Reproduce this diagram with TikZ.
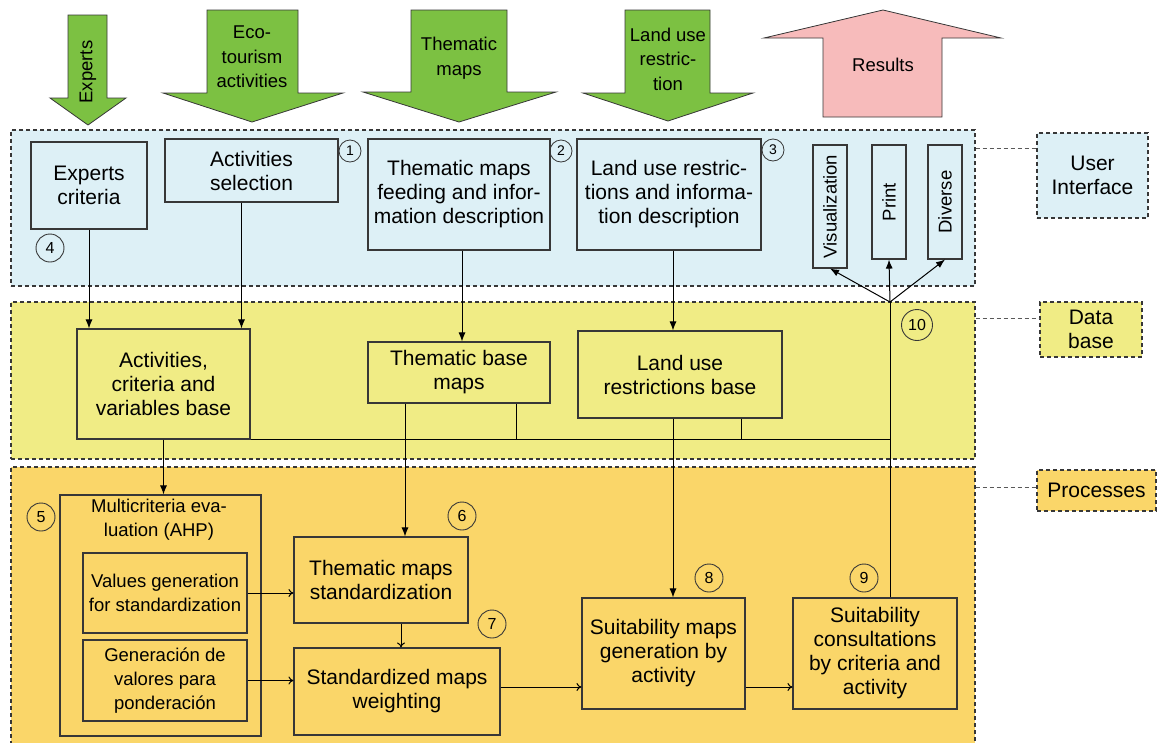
\documentclass[tikz,border=0pt]{standalone}
\usepackage{fontspec}
\setmainfont{Liberation Sans}
\usetikzlibrary{arrows.meta,calc}
\definecolor{uiblue}{RGB}{221,240,246}
\definecolor{dbyellow}{RGB}{240,236,133}
\definecolor{procorange}{RGB}{250,214,105}
\definecolor{arrgreen}{RGB}{124,193,66}
\definecolor{respink}{RGB}{247,187,187}
\definecolor{edge}{RGB}{55,55,55}
\begin{document}
\begin{tikzpicture}[x=1pt,y=-1pt,
 box/.style={draw=edge, line width=1.1pt, inner sep=0pt, align=center, font=\fontsize{21}{24}\selectfont},
 smallbox/.style={box, font=\fontsize{18.5}{24}\selectfont},
 panelbox/.style={draw=edge, line width=1.1pt, dash pattern=on 4pt off 3pt, inner sep=0pt},
 labelbox/.style={panelbox, align=center, font=\fontsize{21}{24}\selectfont},
 linkline/.style={draw=gray!70!black, line width=1pt, dash pattern=on 4pt off 3pt},
 conn/.style={draw=black, line width=1pt},
 arr/.style={conn, -{Latex[length=9pt,width=7pt]}},
 openarr/.style={conn, -{To[length=5pt,width=8pt]}},
 numbig/.style={circle, draw=edge, line width=0.9pt, minimum size=28pt, inner sep=0pt, font=\fontsize{16}{16}\selectfont},
 numsmall/.style={circle, draw=edge, line width=0.8pt, minimum size=22pt, inner sep=0pt, font=\fontsize{14}{14}\selectfont},
 bigarrow/.style={draw=edge, line width=0.8pt, fill=arrgreen},
 arrtext/.style={align=center, font=\fontsize{18.5}{24.5}\selectfont},
 vtext/.style={rotate=90, font=\fontsize{18.5}{22}\selectfont},
]
\useasboundingbox (0,0) rectangle (1157,742);

% panels
\node[panelbox, fill=uiblue, minimum width=964pt, minimum height=156pt] (uipanel) at (493,208) {};
\node[panelbox, fill=dbyellow, minimum width=964pt, minimum height=157pt] (dbpanel) at (493,380.5) {};
\node[panelbox, fill=procorange, minimum width=964pt, minimum height=283pt] (prpanel) at (493,608.5) {};

% side labels
\node[labelbox, fill=uiblue, minimum width=111pt, minimum height=85pt] (uil) at (1092.5,175.5) {User\\Interface};
\node[labelbox, fill=dbyellow, minimum width=102pt, minimum height=55pt] (dbl) at (1091,329.5) {Data\\base};
\node[labelbox, fill=procorange, minimum width=119pt, minimum height=41pt] (prl) at (1096.5,490.5) {Processes};
\coordinate (uilk) at ([yshift=27.5pt]uil.west);
\coordinate (dblk) at ([yshift=11.5pt]dbl.west);
\coordinate (prlk) at ([yshift=3.5pt]prl.west);
\draw[linkline] (uipanel.east |- uilk) -- (uilk);
\draw[linkline] (dbpanel.east |- dblk) -- (dblk);
\draw[linkline] (prpanel.east |- prlk) -- (prlk);

% top arrows
\draw[bigarrow] (68,15) -- (107,15) -- (107,98) -- (126,98) -- (88,125) -- (50,98) -- (68,98) -- cycle;
\node[arrtext, rotate=90] (expt) at (88,72) {Experts};
\draw[bigarrow] (207,10) -- (298,10) -- (298,93) -- (343,93) -- (252,122) -- (163,93) -- (207,93) -- cycle;
\node[arrtext] (ecot) at (252,57) {Eco-\\tourism\\activities};
\draw[bigarrow] (411,10) -- (507,10) -- (507,92) -- (556,92) -- (459,122) -- (363,92) -- (411,92) -- cycle;
\node[arrtext] (thmt) at (459,58) {Thematic\\maps};
\draw[bigarrow] (625,10) -- (710,10) -- (710,93) -- (753,93) -- (668,121) -- (583,93) -- (625,93) -- cycle;
\node[arrtext] (lut) at (668,59) {Land use\\restric-\\tion};
\draw[draw=edge, line width=0.8pt, fill=respink] (883,10) -- (1001,38) -- (942,38) -- (942,117) -- (823,117) -- (823,38) -- (764,38) -- cycle;
\node[arrtext] (rest) at (883,65) {Results};

% user interface boxes
\node[box, fill=uiblue, minimum width=116pt, minimum height=87pt] (expc) at (89,185.5) {Experts\\criteria};
\node[box, fill=uiblue, minimum width=173pt, minimum height=63pt] (actsel) at (251.5,170.5) {Activities\\selection};
\node[box, fill=uiblue, minimum width=182pt, minimum height=111pt] (thfeed) at (459,194.5) {Thematic maps\\feeding and infor-\\mation description};
\node[box, fill=uiblue, minimum width=184pt, minimum height=111pt] (lufeed) at (669,194.5) {Land use restric-\\tions and informa-\\tion description};
\node[box, fill=uiblue, minimum width=34pt, minimum height=123pt] (vis) at (830,206.5) {};
\node[vtext] (visl) at (vis.center) {Visualization};
\node[box, fill=uiblue, minimum width=34pt, minimum height=114pt] (print) at (889,202) {};
\node[vtext] (printl) at (print.center) {Print};
\node[box, fill=uiblue, minimum width=34pt, minimum height=114pt] (diverse) at (945,202) {};
\node[vtext] (diversel) at (diverse.center) {Diverse};

% data base boxes
\node[box, fill=dbyellow, minimum width=173pt, minimum height=110pt] (actbase) at (163.5,384) {Activities,\\criteria and\\variables base};
\node[box, fill=dbyellow, minimum width=182pt, minimum height=61pt] (thbase) at (459,372.5) {Thematic base\\maps};
\node[box, fill=dbyellow, minimum width=204pt, minimum height=87pt] (lubase) at (680,374.5) {Land use\\restrictions base};

% process boxes
\node[box, fill=procorange, minimum width=201pt, minimum height=241pt] (mce) at (160.5,615.5) {};
\node[align=center, font=\fontsize{18.5}{24}\selectfont] (mcet) at (159,520) {Multicriteria eva-\\luation (AHP)};
\node[smallbox, fill=procorange, minimum width=164pt, minimum height=80pt] (valgen) at (165,593) {Values generation\\for standardization};
\node[smallbox, fill=procorange, minimum width=164pt, minimum height=81pt] (genval) at (165,680.5) {Generación de\\valores para\\ponderación};
\node[box, fill=procorange, minimum width=174pt, minimum height=86pt] (tms) at (381,580) {Thematic maps\\standardization};
\node[box, fill=procorange, minimum width=206pt, minimum height=87pt] (smw) at (397,691.5) {Standardized maps\\weighting};
\node[box, fill=procorange, minimum width=163pt, minimum height=111pt] (smg) at (663.5,653.5) {Suitability maps\\generation by\\activity};
\node[box, fill=procorange, minimum width=164pt, minimum height=111pt] (sc) at (875,653.5) {Suitability\\consultations\\by criteria and\\activity};

% number circles
\node[numsmall] (n1) at (350,151) {1};
\node[numsmall] (n2) at (561,151) {2};
\node[numsmall] (n3) at (773,150) {3};
\node[numbig] (n4) at (50,248) {4};
\node[numbig] (n5) at (41,517) {5};
\node[numbig] (n6) at (462,516) {6};
\node[numbig] (n7) at (492,624) {7};
\node[numbig] (n8) at (709,578) {8};
\node[numbig] (n9) at (864,578) {9};
\node[numbig, minimum size=31pt] (n10) at (917,325) {10};

% connectors UI -> database
\coordinate (c1) at ([xshift=-10pt]actsel.south);
\coordinate (c2) at ([xshift=3pt]thfeed.south);
\coordinate (c3) at ([xshift=4pt]lufeed.south);
\draw[arr] (expc.south) -- (expc.south |- actbase.north);
\draw[arr] (c1) -- (c1 |- actbase.north);
\draw[arr] (c2) -- (c2 |- thbase.north);
\draw[arr] (c3) -- (c3 |- lubase.north);

% database bus
\coordinate (fan) at (890,302);
\coordinate (tb) at ([xshift=57pt]thbase.south);
\coordinate (lb) at ([xshift=61pt]lubase.south);
\draw[conn] (actbase.south east) -- (fan |- actbase.south);
\draw[conn] (tb) -- (tb |- actbase.south);
\draw[conn] (lb) -- (lb |- actbase.south);

% database -> processes
\coordinate (d2) at ([xshift=-54pt]thbase.south);
\coordinate (d3) at ([xshift=-7pt]lubase.south);
\draw[arr] (actbase.south) -- (actbase.south |- mce.north);
\draw[arr] (d2) -- (d2 |- tms.north);
\draw[arr] (d3) -- (d3 |- smg.north);

% processes internal
\coordinate (p1) at ([xshift=20pt]tms.south);
\coordinate (p2) at ([yshift=4.5pt]smw.east);
\coordinate (p3) at ([xshift=15pt]sc.north);
\draw[openarr] (valgen.east) -- (valgen.east -| tms.west);
\draw[openarr] (genval.east) -- (genval.east -| smw.west);
\draw[openarr] (p1) -- (p1 |- smw.north);
\draw[openarr] (p2) -- (p2 -| smg.west);
\draw[openarr] (p2 -| smg.east) -- (p2 -| sc.west);

% results
\draw[conn] (p3) -- (fan);
\draw[arr] (fan) -- (vis.south);
\draw[arr] (fan) -- (print.south);
\draw[arr] (fan) -- (diverse.south);
\end{tikzpicture}
\end{document}
